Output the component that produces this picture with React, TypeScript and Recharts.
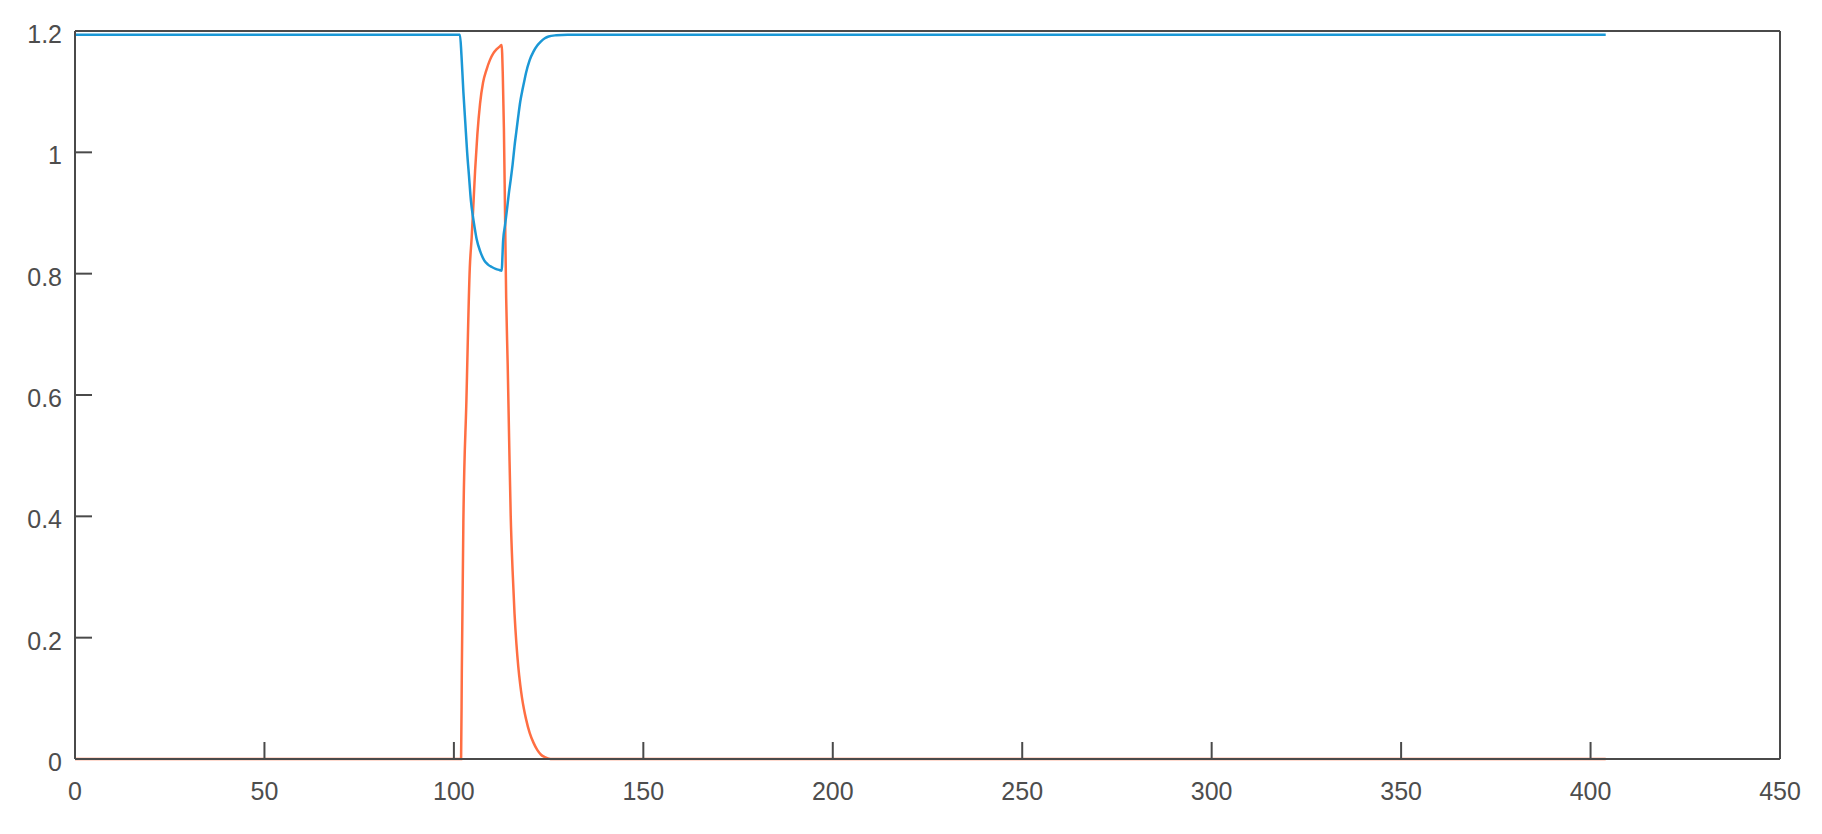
import React from 'react';
import { LineChart, Line, XAxis, YAxis } from 'recharts';

const xTicks = [0, 50, 100, 150, 200, 250, 300, 350, 400, 450];
const yTicks = [0, 0.2, 0.4, 0.6, 0.8, 1, 1.2];
const yTickLabels = ['0', '0.2', '0.4', '0.6', '0.8', '1', '1.2'];

const blueX = [0, 50, 100, 101.6, 102, 102.5, 103, 103.5, 104, 104.5, 105, 105.5, 106, 107, 108, 109, 110, 111, 112, 112.6,
  113, 113.5, 114, 114.5, 115, 115.5, 116, 116.5, 117, 117.5, 118, 118.5, 119, 120, 121, 122, 123, 124, 125, 127, 130, 200, 300, 404];
const blueY = [1.194, 1.194, 1.194, 1.194, 1.16, 1.1, 1.05, 1.0, 0.96, 0.92, 0.895, 0.875, 0.857, 0.836, 0.822, 0.815, 0.811, 0.808, 0.806, 0.805,
  0.855, 0.88, 0.905, 0.932, 0.955, 0.98, 1.01, 1.035, 1.06, 1.083, 1.1, 1.115, 1.13, 1.152, 1.166, 1.176, 1.183, 1.188, 1.191, 1.193, 1.194, 1.194, 1.194, 1.194];

const orangeX = [0, 50, 100, 101.9, 102.1, 102.5, 103.3, 104.2, 104.7, 105.2, 105.6, 106.2, 106.9, 107.7, 108.6, 109.5, 110.4, 111.3, 112.2, 112.6,
  112.9, 113.2, 113.5, 113.8, 114.2, 114.6, 115, 115.5, 116, 116.5, 117, 117.5, 118, 118.5, 119, 120, 121, 122, 123, 124, 125.5, 200, 300, 404];
const orangeY = [0, 0, 0, 0, 0.15, 0.39, 0.59, 0.81, 0.86, 0.92, 0.97, 1.03, 1.08, 1.115, 1.136, 1.152, 1.163, 1.17, 1.175, 1.177,
  1.13, 1.04, 0.9, 0.76, 0.65, 0.52, 0.4, 0.31, 0.24, 0.19, 0.152, 0.123, 0.1, 0.082, 0.067, 0.043, 0.027, 0.015, 0.007, 0.003, 0, 0, 0, 0];

const blueData = blueX.map((x, i) => ({ x, y: blueY[i] }));
const orangeData = orangeX.map((x, i) => ({ x, y: orangeY[i] }));

const W = 1822;
const H = 834;
const TICK = 17;
const AXIS = '#4a4a4a';
const LABEL = '#4d4d4d';
const FONT = '"Liberation Sans", Arial, Helvetica, sans-serif';
const FS = 25;
const BLUE = '#1b98d6';
const ORANGE = '#ff6e42';

const BottomTick = (props: any) => {
  const { x, y, payload } = props;
  return (
    <g>
      <line x1={x} x2={x} y1={y} y2={y - TICK} stroke={AXIS} strokeWidth={2} />
      <text x={x} y={y + 32} textAnchor="middle" dominantBaseline="central" fill={LABEL} fontFamily={FONT} fontSize={FS}>
        {payload.value}
      </text>
    </g>
  );
};

const TopTick = (props: any) => {
  const { x, y } = props;
  return <line x1={x} x2={x} y1={y} y2={y + TICK} stroke={AXIS} strokeWidth={2} />;
};

const LeftTick = (props: any) => {
  const { x, y, payload } = props;
  const label = yTickLabels[yTicks.indexOf(payload.value)] ?? String(payload.value);
  return (
    <g>
      <line x1={x} x2={x + TICK} y1={y} y2={y} stroke={AXIS} strokeWidth={2} />
      <text x={x - 13} y={y + 3} textAnchor="end" dominantBaseline="central" fill={LABEL} fontFamily={FONT} fontSize={FS}>
        {label}
      </text>
    </g>
  );
};

const RightTick = (props: any) => {
  const { x, y } = props;
  return <line x1={x - TICK} x2={x} y1={y} y2={y} stroke={AXIS} strokeWidth={2} />;
};

export default function App() {
  return (
    <div style={{ position: 'absolute', left: 0, top: 0, width: W, height: H, background: '#fff' }}>
      <LineChart width={W} height={H} margin={{ top: 0, right: 0, bottom: 0, left: 0 }}>
        <XAxis
          xAxisId={0}
          dataKey="x"
          type="number"
          domain={[0, 450]}
          ticks={xTicks}
          orientation="bottom"
          height={75}
          tickLine={false}
          tickSize={0}
          tickMargin={0}
          axisLine={{ stroke: AXIS, strokeWidth: 2 }}
          tick={<BottomTick />}
          interval={0}
        />
        <XAxis
          xAxisId="top"
          dataKey="x"
          type="number"
          domain={[0, 450]}
          ticks={xTicks}
          orientation="top"
          height={31}
          tickLine={false}
          tickSize={0}
          tickMargin={0}
          axisLine={{ stroke: AXIS, strokeWidth: 2 }}
          tick={<TopTick />}
          interval={0}
        />
        <YAxis
          yAxisId={0}
          type="number"
          domain={[0, 1.2]}
          ticks={yTicks}
          orientation="left"
          width={75}
          tickLine={false}
          tickSize={0}
          tickMargin={0}
          axisLine={{ stroke: AXIS, strokeWidth: 2 }}
          tick={<LeftTick />}
          interval={0}
        />
        <YAxis
          yAxisId="right"
          type="number"
          domain={[0, 1.2]}
          ticks={yTicks}
          orientation="right"
          width={42}
          tickLine={false}
          tickSize={0}
          tickMargin={0}
          axisLine={{ stroke: AXIS, strokeWidth: 2 }}
          tick={<RightTick />}
          interval={0}
        />
        <Line
          xAxisId={0}
          yAxisId={0}
          data={orangeData}
          dataKey="y"
          type="monotoneX"
          stroke={ORANGE}
          strokeWidth={2.5}
          dot={false}
          activeDot={false}
          isAnimationActive={false}
        />
        <Line
          xAxisId={0}
          yAxisId={0}
          data={blueData}
          dataKey="y"
          type="monotoneX"
          stroke={BLUE}
          strokeWidth={2.5}
          dot={false}
          activeDot={false}
          isAnimationActive={false}
        />
      </LineChart>
    </div>
  );
}
